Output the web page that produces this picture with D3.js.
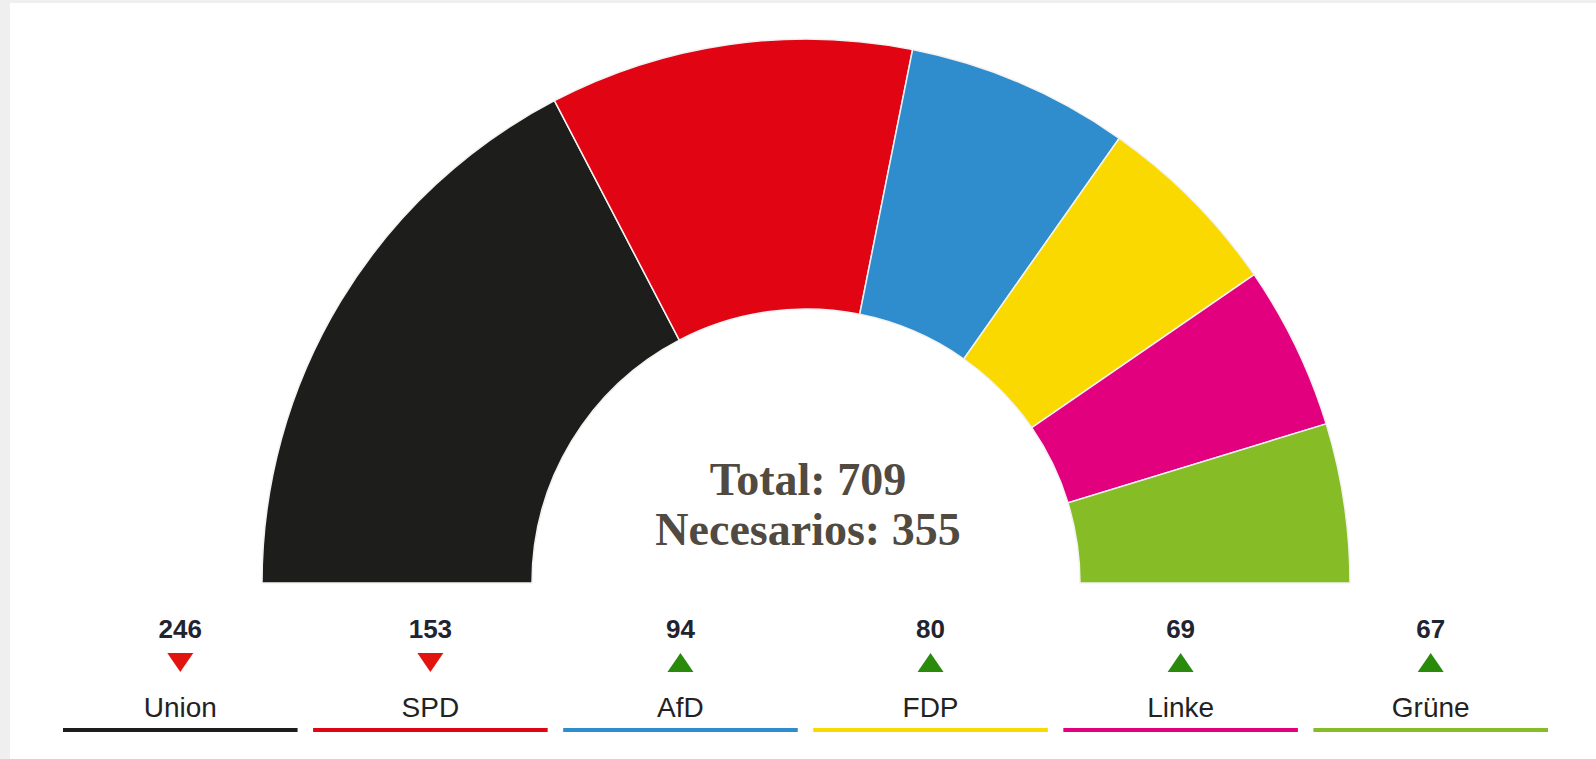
<html>
<head>
    <script src="https://cdnjs.cloudflare.com/ajax/libs/d3/7.8.5/d3.min.js"></script>
    <style>
        body { margin: 0; background: #ffffff; }
        svg { display: block; }
    </style>
</head>
<body>
    <script>
        var parties = ["Union", "SPD", "AfD", "FDP", "Linke", "Grüne"];
        var seats = [246, 153, 94, 80, 69, 67];
        var trends = ["down", "down", "up", "up", "up", "up"];
        var colors = ["#1d1d1b", "#e10514", "#2f8ccd", "#f9d900", "#e3007f", "#86bc25"];
        var totalLabel = "Total: 709";
        var neededLabel = "Necesarios: 355";

        var width = 1596;
        var height = 759;
        var cx = 806, cy = 583;

        var svg = d3.select("body").append("svg")
            .attr("width", width)
            .attr("height", height);

        // faint photo edge on the left and top
        svg.append("rect").attr("x", 0).attr("y", 0).attr("width", 10).attr("height", height).attr("fill", "#efefef");
        svg.append("rect").attr("x", 0).attr("y", 0).attr("width", width).attr("height", 3).attr("fill", "#efefef");

        var data = parties.map(function (p, i) {
            return { party: p, seats: seats[i], trend: trends[i], color: colors[i] };
        });

        var pie = d3.pie()
            .sort(null)
            .value(d => d.seats)
            .startAngle(-Math.PI / 2)
            .endAngle(Math.PI / 2);

        var arc = d3.arc()
            .innerRadius(274)
            .outerRadius(544);

        var chart = svg.append("g")
            .attr("transform", "translate(" + cx + "," + cy + ")");

        chart.selectAll("path")
            .data(pie(data))
            .enter().append("path")
            .attr("d", arc)
            .attr("fill", d => d.data.color)
            .attr("stroke", "#f2f2f2")
            .attr("stroke-width", 1.5);

        chart.append("text")
            .attr("x", 2).attr("y", -88)
            .attr("text-anchor", "middle")
            .attr("font-family", "Liberation Serif, serif")
            .attr("font-weight", "bold")
            .attr("font-size", 46)
            .attr("fill", "#514a40")
            .text(totalLabel);

        chart.append("text")
            .attr("x", 2).attr("y", -38)
            .attr("text-anchor", "middle")
            .attr("font-family", "Liberation Serif, serif")
            .attr("font-weight", "bold")
            .attr("font-size", 46)
            .attr("fill", "#514a40")
            .text(neededLabel);

        // legend
        var x = d3.scaleBand()
            .domain(parties)
            .range([63, 1548])
            .paddingInner(0.062);

        var legend = svg.selectAll(".legend")
            .data(data)
            .enter().append("g")
            .attr("class", "legend")
            .attr("transform", d => "translate(" + x(d.party) + ",0)");

        legend.append("text")
            .attr("x", x.bandwidth() / 2)
            .attr("y", 638)
            .attr("text-anchor", "middle")
            .attr("font-family", "Liberation Sans, Arial, sans-serif")
            .attr("font-weight", "bold")
            .attr("font-size", 26)
            .attr("fill", "#1f2430")
            .text(d => d.seats);

        // trend arrows: 26 wide, 19 tall
        legend.append("path")
            .attr("d", function (d) {
                var m = x.bandwidth() / 2;
                var pts = d.trend == "down"
                    ? [[m - 13, 653], [m + 13, 653], [m, 672]]
                    : [[m, 653], [m + 13, 672], [m - 13, 672]];
                return d3.line()(pts) + "Z";
            })
            .attr("fill", d => d.trend == "down" ? "#e2140f" : "#2a8a0c");

        legend.append("text")
            .attr("x", x.bandwidth() / 2)
            .attr("y", 717)
            .attr("text-anchor", "middle")
            .attr("font-family", "Liberation Sans, Arial, sans-serif")
            .attr("font-size", 28)
            .attr("fill", "#222222")
            .text(d => d.party);

        legend.append("line")
            .attr("x1", 0)
            .attr("x2", x.bandwidth())
            .attr("y1", 730)
            .attr("y2", 730)
            .attr("stroke", d => d.color)
            .attr("stroke-width", 4);
    </script>
</body>
</html>
